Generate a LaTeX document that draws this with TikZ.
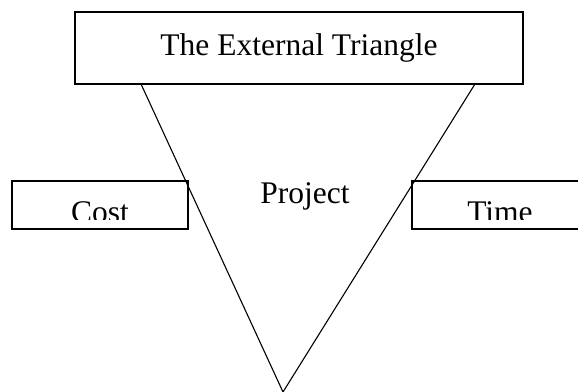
\documentclass[tikz,border=0pt]{standalone}
\usepackage{fontspec}
\setmainfont{Liberation Serif}
\begin{document}
\begin{tikzpicture}[x=1pt,y=-1pt,
  txt/.style={font=\fontsize{31.5}{38}\selectfont, inner sep=0pt},
  frame/.style={draw, line width=1.5pt, fill=white, inner sep=0pt},
  side/.style={line width=1.1pt}]
  \useasboundingbox (0,0) rectangle (578,391);
  \clip (0,0) rectangle (578,391);

  % title box
  \node[frame, minimum width=448pt, minimum height=72pt] (ext) at (299,48) {};
  \node[txt, anchor=base] (extlabel) at (299,55) {The External Triangle};

  % side boxes
  \node[frame, minimum width=176pt, minimum height=48pt] (cost) at (100,205) {};
  \node[frame, minimum width=176pt, minimum height=48pt] (time) at (500,205) {};

  % side labels, cut off above the lower edge of the boxes
  \begin{scope}
    \clip (12,181) rectangle (188,219.5);
    \node[txt, anchor=base] (costlabel) at (100,222.5) {Cost};
  \end{scope}
  \begin{scope}
    \clip (412,181) rectangle (588,219.5);
    \node[txt, anchor=base] (timelabel) at (500,222) {Time};
  \end{scope}

  % inverted triangle hanging from the title box
  \coordinate (tl) at (141,84);
  \coordinate (tr) at (475,84);
  \coordinate (apex) at (283,392);
  \draw[side] (tl) -- (apex) -- (tr);

  \node[txt, anchor=base] (project) at (305,203) {Project};
\end{tikzpicture}
\end{document}
